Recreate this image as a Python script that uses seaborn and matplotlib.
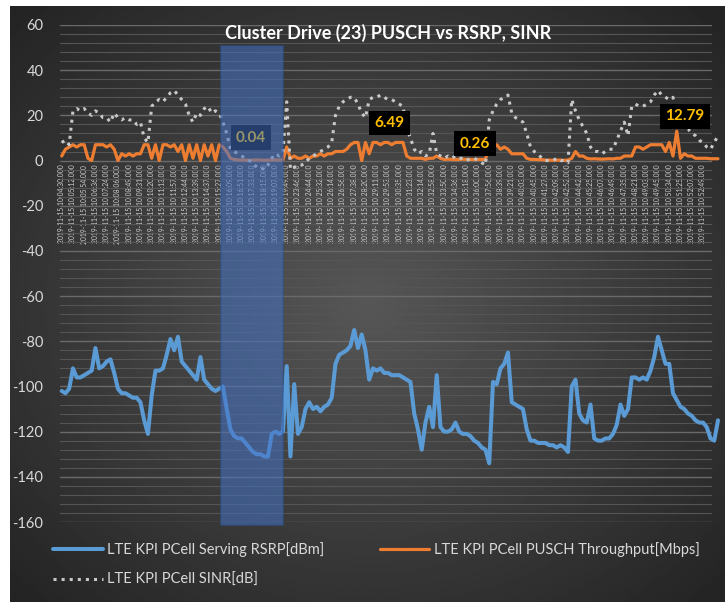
import numpy as np
import pandas as pd
import matplotlib
matplotlib.use('Agg')
import matplotlib.pyplot as plt
import seaborn as sns
from matplotlib.patches import Rectangle
from matplotlib.ticker import MultipleLocator

BLUE = '#5B9BD5'
ORANGE = '#ED7D31'
GREY = '#C8C8C8'
TEXT_COL = '#D9D9D9'
LABEL_COL = '#FFC000'

# tick labels (every 3rd sample)
times = ['10:04:30', '10:05:12', '10:05:54', '10:06:36', '10:07:24', '10:08:06',
         '10:08:49', '10:09:31', '10:10:20', '10:11:13', '10:11:57', '10:12:44',
         '10:13:39', '10:14:37', '10:15:27', '10:16:09', '10:16:51', '10:17:33',
         '10:18:15', '10:19:07', '10:19:49', '10:23:46', '10:24:44', '10:25:32',
         '10:26:14', '10:26:56', '10:27:38', '10:28:20', '10:29:11', '10:29:53',
         '10:30:35', '10:31:23', '10:32:14', '10:32:58', '10:33:50', '10:34:36',
         '10:35:18', '10:36:00', '10:37:56', '10:38:39', '10:39:21', '10:40:03',
         '10:40:45', '10:41:27', '10:42:09', '10:42:52', '10:44:42', '10:45:25',
         '10:46:07', '10:46:49', '10:47:35', '10:48:21', '10:49:03', '10:49:45',
         '10:50:34', '10:51:25', '10:52:07', '10:52:49']
tick_labels = ['2019-11-15 ' + t + '.000' for t in times]

rsrp = [-102, -103, -101, -92, -96, -96, -95, -94, -93, -83,
        -92, -91, -89, -88, -94, -101, -103, -103, -104, -105,
        -105, -107, -115, -121, -104, -93, -93, -92, -86, -79,
        -84, -78, -89, -91, -93, -95, -97, -87, -97, -99,
        -101, -102, -101, -100, -110, -119, -122, -123, -123, -125,
        -127, -129, -130, -130, -131, -131, -121, -120, -121, -120,
        -91, -131, -99, -121, -118, -110, -107, -110, -109, -111,
        -109, -108, -105, -90, -86, -85, -84, -82, -75, -83,
        -77, -84, -97, -92, -93, -92, -94, -94, -95, -95,
        -95, -96, -97, -98, -112, -119, -128, -116, -109, -118,
        -95, -118, -120, -120, -119, -116, -120, -121, -121, -122,
        -124, -125, -127, -128, -134, -98, -99, -92, -90, -85,
        -107, -108, -109, -110, -119, -124, -124, -125, -125, -125,
        -126, -126, -127, -126, -127, -129, -100, -97, -112, -115,
        -116, -108, -123, -124, -124, -123, -123, -121, -117, -108,
        -113, -110, -96, -96, -97, -96, -97, -93, -87, -78,
        -84, -90, -90, -103, -106, -109, -110, -112, -113, -115,
        -116, -116, -118, -123, -124, -115]

tput = [2, 5, 6, 7, 6, 7, 7, 1, 0, 7, 7,
        7, 6, 7, 5, 0, 3, 2, 3, 2, 3, 3,
        7, 7, 1, 7, 0, 7, 7, 6, 7, 4, 7,
        0, 7, 1, 7, 0, 7, 2, 7, 0, 7, 6,
        4, 1, 0.5,
        0.3, 0.2, 0.2, 0.1, 0.2, 0.3, 0.2, 0.1, 0.2, 0.2, 0.3, 0.2, 0.3,
        6,
        1, 2, 1, 1, 2, 1, 2, 2, 3, 2, 3, 3, 4, 4, 4, 5,
        7, 8, 8, 0, 8, 3, 8, 8, 7, 8, 8, 7, 8, 8, 8,
        2, 1, 1, 1, 1, 0.5, 1, 1, 2, 1,
        0.5, 0.6, 0.5, 0.4, 0.5, 0.6, 0.5, 0.5, 0.4, 0.5, 0.5, 0.5,
        7, 6, 7, 5, 6, 5, 3, 3, 3, 3, 1,
        0.5, 0.5, 0.4, 0.4,
        0.2, 0.2, 0.1, 0.2, 0.2, 0.1, 0.2,
        1, 4, 2, 2, 1,
        0.7, 0.8, 0.7, 0.6, 0.7, 0.8, 0.7,
        1, 1, 2, 2, 2,
        6, 6, 5, 6, 7, 7, 7, 7, 4, 8, 2,
        13,
        1, 3, 2, 2, 1, 1, 1, 1, 0.8, 0.8, 0.8]

sinr = [8, 9, 7, 22, 23, 22, 23, 21, 20, 22,
        21, 19, 19, 17, 21, 19, 18, 19, 18, 18,
        16, 17, 10, 8, 24, 26, 27, 26, 28, 30,
        31, 29, 27, 25, 20, 17, 21, 20, 23, 24,
        21, 22, 21, 17, 12, 5, 4, 3, 2, 1,
        0, -1, -3, -3, -4, -2, 1, 3, 2, 4,
        26, -4, -3, -2, -2, -1, 1, 2, 3, 4,
        5, 6, 8, 20, 24, 26, 27, 28, 28, 25,
        21, 19, 27, 28, 28, 29, 28, 27, 27, 26,
        25, 24, 14, 10, 5, 3, 4, 2, 3, 12,
        3, 2, 1, 2, 1, 2, 1, 1, 0, 1,
        1, 0, -1, -2, 18, 22, 25, 27, 28, 29,
        21, 19, 18, 17, 12, 6, 4, 3, 1, 0,
        0, 0, 1, 0, 0, -1, 27, 22, 18, 15,
        12, 6, 4, 4, 3, 4, 5, 5, 9, 13,
        17, 11, 24, 25, 24, 24, 25, 26, 29, 31,
        29, 28, 27, 28, 16, 15, 14, 14, 12, 11,
        9, 8, 6, 5, 8, 11]

# call-out boxes: (sample position, y, text)
callout_x = [50.5, 87.5, 110.2, 166.2]
callout_y = [10.2, 16.6, 7.5, 19.5]
callout_txt = ['0.04', '6.49', '0.26', '12.79']

df = pd.DataFrame({'idx': np.arange(len(rsrp)), 'rsrp': rsrp, 'tput': tput, 'sinr': sinr})

sns.set_style('dark')
plt.rcParams['font.family'] = ['Lato', 'DejaVu Sans']
plt.rcParams['axes.unicode_minus'] = False

fig = plt.figure(figsize=(7.25, 6.02), dpi=100)
fig.patch.set_facecolor('white')

# dark radial background of the chart area
bg = fig.add_axes([10 / 725, 0, 715 / 725, 596 / 602])
yy, xx = np.mgrid[-1:1:300j, -1:1:360j]
r = np.clip(np.sqrt(xx ** 2 + yy ** 2) / 1.4, 0, 1)
bg.imshow(0.34 - 0.2 * r, cmap='gray', vmin=0, vmax=1, aspect='auto', interpolation='bilinear')
bg.axis('off')

ax = fig.add_axes([60 / 725, 80 / 602, 652 / 725, 497 / 602])
ax.patch.set_alpha(0)

sns.lineplot(data=df, x='idx', y='rsrp', ax=ax, color=BLUE, lw=2.9, estimator=None,
             label='LTE KPI PCell Serving RSRP[dBm]', zorder=3)
sns.lineplot(data=df, x='idx', y='tput', ax=ax, color=ORANGE, lw=2.3, estimator=None,
             label='LTE KPI PCell PUSCH Throughput[Mbps]', zorder=4)
sns.lineplot(data=df, x='idx', y='sinr', ax=ax, color=GREY, lw=2.2, linestyle=':',
             estimator=None, label='LTE KPI PCell SINR[dB]', zorder=5)
for ln in ax.get_lines():
    ln.set_clip_on(False)

ax.set_ylim(-160, 60)
ax.set_xlim(-0.45, 173.4)
ax.set_yticks(range(-160, 61, 20))
ax.yaxis.set_minor_locator(MultipleLocator(4))
ax.grid(axis='y', which='major', color='#6a6a6a', lw=1.0)
ax.grid(axis='y', which='minor', color='#555555', lw=0.8)
ax.grid(axis='x', visible=False)
ax.set_axisbelow(True)
for s in ax.spines.values():
    s.set_visible(False)
ax.spines['bottom'].set_position(('data', 0))

ax.set_xticks(range(0, 3 * len(tick_labels), 3))
ax.set_xticklabels(tick_labels, rotation=90, fontsize=4.9, color='#CFCFCF')
ax.tick_params(axis='x', length=0, pad=3)
ax.tick_params(axis='y', which='both', length=0, pad=12, labelsize=10.5, labelcolor=TEXT_COL)
ax.set_xlabel('')
ax.set_ylabel('')

for cx, cy, t in zip(callout_x, callout_y, callout_txt):
    ax.text(cx, cy, t, ha='center', va='center', color=LABEL_COL, fontsize=11,
            fontweight='bold', zorder=8,
            bbox=dict(boxstyle='square,pad=0.35', fc='black', ec='none'))

# highlighted window
ax.add_patch(Rectangle((42.5, -161.3), 16.5, 212, fc='#4472C4', ec='#2F5597',
                       lw=1.2, alpha=0.55, zorder=10, clip_on=False))

fig.text(388 / 725, 1 - 33 / 602, 'Cluster Drive (23) PUSCH vs RSRP, SINR',
         ha='center', va='center', color='white', fontsize=13, fontweight='bold')

h, l = ax.get_legend_handles_labels()
ax.get_legend().remove()
fig.legend([h[0], h[2], h[1]], [l[0], l[2], l[1]], loc='upper left',
           bbox_to_anchor=(53 / 725, 1 - 542 / 602), ncol=2, frameon=False,
           fontsize=10.5, labelcolor=TEXT_COL, handlelength=3.4, handletextpad=0.3,
           columnspacing=3.8, labelspacing=1.1, borderpad=0, borderaxespad=0)

fig.savefig('out.png', dpi=100)
